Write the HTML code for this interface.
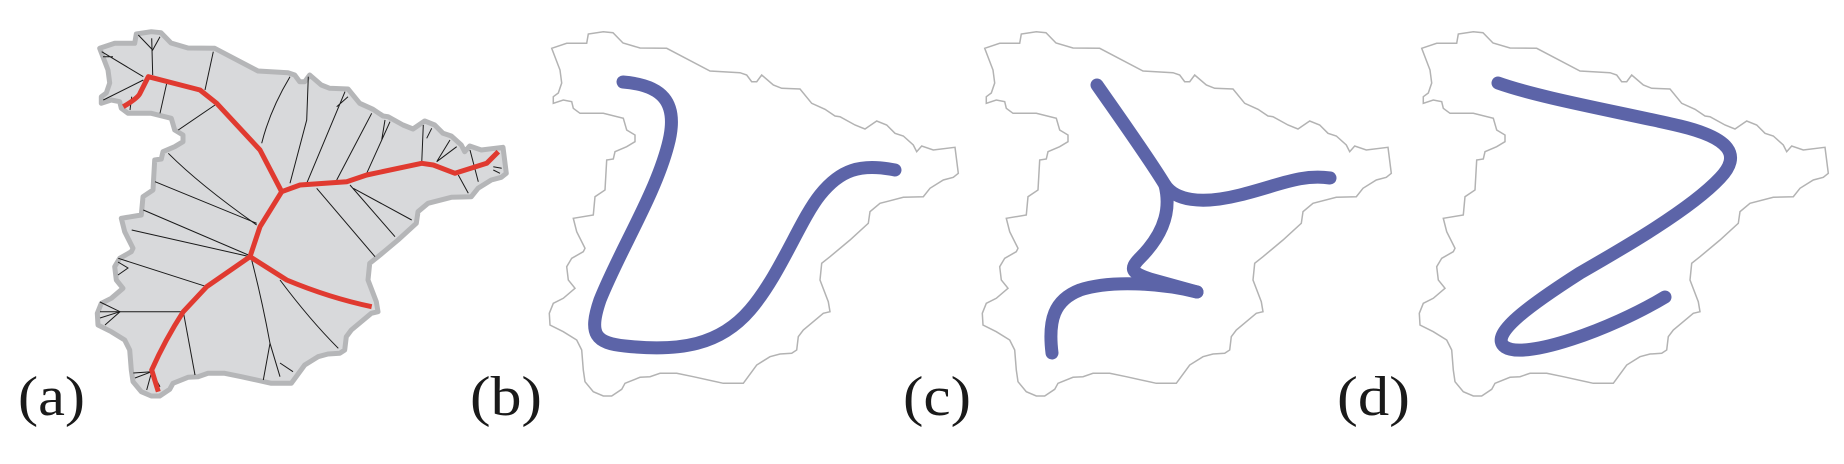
<!DOCTYPE html>
<html><head><meta charset="utf-8"><style>
html,body{margin:0;padding:0;background:#fff;}
svg{display:block;}
</style></head><body>
<svg width="1844" height="464" viewBox="0 0 1844 464" xmlns="http://www.w3.org/2000/svg">
<defs>
<path id="spain" d="M551.7,48.3 L566.7,43.3 L586.7,43.3 L588.3,34 L603.3,31.7 L613,32.7 L623,43 L640,48 L666.7,48.3 L710,71 L740,72.7 L746.7,75 L751.7,81.7 L756.7,81.7 L761.7,75 L773.3,85 L781.7,88.3 L800,89 L811.7,103.3 L825,109.3 L835,116 L840,116.7 L855,125 L865,129 L876.7,121 L886.7,125 L895,133.3 L903.3,136 L913.3,145 L916.7,151.7 L921.7,146 L933.3,150 L955,147.3 L958.3,173.3 L953.3,177.3 L943.3,180 L930,188.3 L923.3,196.7 L903.3,197.3 L880,203.3 L870,211.7 L868.3,223.3 L850,240 L830,256.7 L821.7,263.3 L820,280 L828.3,301.7 L830,311.7 L823.3,313.3 L803.3,330 L798.3,336.7 L796.7,350 L791.7,353.3 L780,354 L770,356.7 L756.7,365 L743.3,383.3 L723.3,383.3 L693.3,376.7 L676.7,373.3 L660,373.3 L650,376.7 L640,377.3 L625,383.3 L621.7,389.3 L611.7,396 L603.3,396 L593.3,391.7 L585,381.7 L583.3,370 L581.7,350 L576.7,340 L563.3,331.7 L550,325 L549.3,313.3 L553.3,303.3 L563.3,298.3 L575,288.3 L568.3,280 L566.7,266.7 L571.7,258.3 L583.3,251.7 L585,248.3 L576.7,231.7 L573.3,218.3 L593.3,215 L595,196.7 L605,190 L606.7,160 L613.3,159 L615,151.7 L626.7,146.7 L635,141.7 L635,135 L626.7,130 L623.3,118.3 L603.3,113.3 L580,113.3 L573.3,108.3 L571.7,101.7 L563.3,100 L553.3,103.3 L553.3,96.7 L558.3,93 L561.7,83 L560,70 Z"/>
</defs>

<!-- Panel (a) -->
<g>
<use href="#spain" transform="translate(-452,0)" fill="#d8d9db" stroke="#b5b6b8" stroke-width="5" stroke-linejoin="round"/>
<g stroke="#1a1a1a" stroke-width="1" fill="none">
<path d="M213.3,51.7 L205,90"/>
<path d="M151.7,38.3 L152.7,75 M138.3,35 L152.7,50 L160,36.7"/>
<path d="M101.7,51.7 L143.3,76.7 M103,56.7 L113,56.7"/>
<path d="M103.3,100 L143.3,80"/>
<path d="M166.7,83.3 L160,113.3"/>
<path d="M131.7,96.7 L130,110"/>
<path d="M215,105 L178.3,130"/>
<path d="M290,76.7 Q270,110 261.7,143.3"/>
<path d="M308.3,76.7 L306.7,120 L290,183.3"/>
<path d="M345,91.7 L306.7,183.3 M336.7,106.7 L348,96.7"/>
<path d="M371.7,113.3 L336.7,180"/>
<path d="M390,121.7 L366.7,173.3 M385,120 L381.7,140"/>
<path d="M423.3,125 L421.7,163.3 M431.7,128.3 L426.7,138.3"/>
<path d="M450,140 L436.7,161.7 M456.7,146.7 L436.7,161.7"/>
<path d="M470,150 L478.3,181.7 M458.3,175 L468.3,193.3"/>
<path d="M493.3,166.7 L501.7,168.3 M493.3,170 L500,173.3"/>
<path d="M168.3,153.3 Q200,185 256.7,225"/>
<path d="M155,181.7 L256.7,223.3"/>
<path d="M143.3,210 L248.3,255"/>
<path d="M131.7,230 L250,256.7"/>
<path d="M118.3,258.3 L206.7,286.7"/>
<path d="M100,311.7 L183.3,311.7"/>
<path d="M100,302 L120,311.7 L105,325 M100,318 L120,311.7"/>
<path d="M118,262 L128,268 L118,275"/>
<path d="M316.7,188.3 L375,256.7"/>
<path d="M350,185 L395,236.7"/>
<path d="M353.3,188.3 L411.7,220"/>
<path d="M251.7,260 Q262,300 270,343.3 L263.3,380 M270,343.3 L280,376.7"/>
<path d="M280,280 Q310,320 338.3,348.3"/>
<path d="M183.3,311.7 L195,375"/>
<path d="M151.7,371.7 L133.3,373 M151.7,371.7 L135,378 M151.7,371.7 L146.7,390 M151.7,371.7 L160,386.7"/>
<path d="M280,363 L293,371.7"/>
</g>
<g stroke="#e03a30" stroke-width="5" fill="none" stroke-linejoin="round" stroke-linecap="butt">
<path d="M123.3,106.7 Q138,98 140,93.3 L148.3,76.7 L200,90 L216.7,103.3 L260,150 L281.7,191.7 L300,185 L346.7,181.7 L366.7,175 L421.7,163.3 L433.3,165 L455,173.3 L486.7,163.3 L498.3,151.7"/>
<path d="M281.7,191.7 L260,226.7 L250,256.7 L206.7,286.7 L183.3,311.7 Q165,340 151.7,370 L158.3,391.7"/>
<path d="M250,256.7 L286.7,280 Q330,298 371.7,306.7"/>
</g>
</g>

<!-- Panel (b) -->
<g>
<use href="#spain" fill="none" stroke="#b3b3b3" stroke-width="1.5"/>
<path d="M623,82 C660,85 680,100 668,145 C655,195 620,250 600,300 C588,335 596,343 625,346 C680,352 720,345 750,310 C780,275 800,220 820,195 C840,170 860,163 895,170" fill="none" stroke="#5c64a8" stroke-width="13" stroke-linecap="round"/>
</g>

<!-- Panel (c) -->
<g>
<use href="#spain" transform="translate(433,0)" fill="none" stroke="#b3b3b3" stroke-width="1.5"/>
<g fill="none" stroke="#5c64a8" stroke-width="13" stroke-linecap="round" stroke-linejoin="round">
<path d="M1097,85 C1120,118 1150,160 1165,185 C1175,200 1200,205 1240,195 C1280,185 1300,174 1330,178"/>
<path d="M1165,185 C1170,205 1168,230 1140,258 C1128,270 1133,273 1150,279 L1197,292"/>
<path d="M1052,353 C1048,320 1054,300 1080,290 C1110,280 1160,283 1197,292"/>
</g>
</g>

<!-- Panel (d) -->
<g>
<use href="#spain" transform="translate(870,0)" fill="none" stroke="#b3b3b3" stroke-width="1.5"/>
<path d="M1498,83 C1540,98 1620,112 1680,126 C1730,138 1742,155 1720,178 C1690,210 1620,250 1580,273 C1530,305 1488,335 1505,347 C1525,360 1610,330 1665,297" fill="none" stroke="#5c64a8" stroke-width="13" stroke-linecap="round"/>
</g>

<g font-family="'Liberation Serif', serif" font-size="56" fill="#1a1a1a">
<text x="18" y="415" textLength="67" lengthAdjust="spacingAndGlyphs">(a)</text>
<text x="470" y="415" textLength="72" lengthAdjust="spacingAndGlyphs">(b)</text>
<text x="903" y="415" textLength="68" lengthAdjust="spacingAndGlyphs">(c)</text>
<text x="1337" y="415" textLength="73" lengthAdjust="spacingAndGlyphs">(d)</text>
</g>
</svg>
</body></html>
